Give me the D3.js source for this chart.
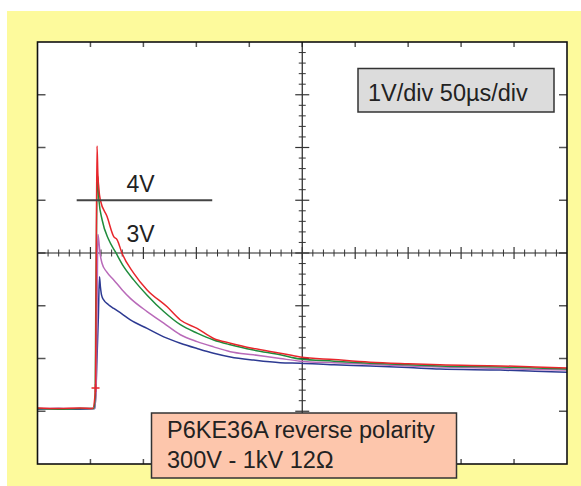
<!DOCTYPE html>
<html>
<head>
<meta charset="utf-8">
<script src="https://cdn.jsdelivr.net/npm/d3@7"></script>
<style>
  html, body { margin: 0; padding: 0; background: #ffffff; }
  svg { display: block; }
  text { font-family: "Liberation Sans", Arial, sans-serif; fill: #222; }
</style>
</head>
<body>
<svg id="chart" width="581" height="486"></svg>
<script>
// Time in microseconds (50 µs/div), voltage in volts (1 V/div).
const timeDomain = [0, 500];
const voltDomain = [-1, 7];

// Four captured waveforms: time (µs) and voltage (V) samples.
const redT = [0, 20, 40, 52, 54.8, 55.5, 56.2, 57, 58, 59.4, 65.7, 72, 75.2, 79.9, 90.8, 103.5, 122.4, 134.9, 150.7, 166.3, 182.1, 204, 229.2, 248, 280, 314, 350, 380, 437, 470, 500];
const redV = [0.06, 0.05, 0.06, 0.05, 0.44, 3.0, 5.03, 4.5, 4.2, 4.0, 3.69, 3.31, 3.25, 2.99, 2.62, 2.30, 1.98, 1.73, 1.57, 1.38, 1.29, 1.19, 1.10, 1.03, 0.98, 0.93, 0.90, 0.88, 0.86, 0.84, 0.82];

const greenT = [0, 20, 40, 53, 54.5, 55, 56, 57, 57.6, 58, 61, 67.3, 73.6, 81.4, 90.8, 103.5, 119.2, 134.9, 150.7, 166.3, 182.1, 204, 229.2, 248, 280, 314, 350, 380, 437, 470, 500];
const greenV = [0.05, 0.04, 0.05, 0.05, 0.3, 1.9, 4.0, 4.45, 4.2, 4.0, 3.63, 3.25, 3.02, 2.74, 2.49, 2.20, 1.89, 1.64, 1.48, 1.35, 1.26, 1.16, 1.07, 0.99, 0.95, 0.91, 0.88, 0.86, 0.84, 0.82, 0.80];

const magentaT = [0, 20, 40, 54, 55.5, 56.5, 57, 57.8, 59, 61, 65, 72, 80, 87.7, 103.5, 119.2, 134.9, 150.7, 166.3, 182.1, 204, 229.2, 248, 280, 314, 350, 380, 437, 470, 500];
const magentaV = [0.05, 0.05, 0.05, 0.05, 0.5, 2.5, 3.35, 3.25, 3.0, 2.80, 2.65, 2.49, 2.30, 2.14, 1.89, 1.67, 1.45, 1.32, 1.22, 1.13, 1.07, 1.00, 0.95, 0.92, 0.89, 0.86, 0.84, 0.81, 0.79, 0.78];

const blueT = [0, 20, 40, 54, 55, 56, 57.5, 58.5, 59.4, 60.5, 62.5, 67, 72, 80, 87.7, 103.5, 119.2, 134.9, 150.7, 166.3, 182.1, 204, 229.2, 248, 280, 314, 350, 380, 437, 470, 500];
const blueV = [0.04, 0.05, 0.04, 0.05, 0.3, 0.9, 1.8, 2.55, 2.36, 2.2, 2.11, 2.02, 1.95, 1.84, 1.73, 1.57, 1.41, 1.29, 1.19, 1.10, 1.03, 0.97, 0.92, 0.91, 0.88, 0.86, 0.83, 0.80, 0.78, 0.76, 0.74];

// Trigger point marked on the red trace.
const triggerT = [54.8];
const triggerV = [0.44];

// Threshold marker: level (V) and its time span (µs).
const levelV = [4];
const levelSpan = [37, 165];
const levelLabels = ["4V", "3V"];
const levelLabelV = [4, 3];

const scaleLabel = "1V/div 50\u00b5s/div";
const titleLines = ["P6KE36A reverse polarity", "300V - 1kV 12\u03a9"];

const traces = [
  { t: blueT, v: blueV, color: "#2d3a92" },
  { t: magentaT, v: magentaV, color: "#b96ab9" },
  { t: greenT, v: greenV, color: "#1f8c3c" },
  { t: redT, v: redV, color: "#e8262c" }
];

const svg = d3.select("#chart");
const W = 581, H = 486;
const plot = { left: 37.5, top: 42, right: 567, bottom: 464 };

// Page and panel backgrounds
svg.append("rect").attr("x", 7).attr("y", 11).attr("width", W - 7).attr("height", H - 11).attr("fill", "#fdfa9c");
svg.append("rect").attr("x", plot.left).attr("y", plot.top)
  .attr("width", plot.right - plot.left).attr("height", plot.bottom - plot.top)
  .attr("fill", "#ffffff");

const x = d3.scaleLinear().domain(timeDomain).range([plot.left, plot.right]);
const y = d3.scaleLinear().domain(voltDomain).range([plot.bottom, plot.top]);

const majorT = d3.range(50, 500, 50);
const minorT = d3.range(10, 500, 10).filter(d => d % 50 !== 0);
const majorV = d3.range(0, 7, 1);
const minorV = d3.range(-0.8, 7, 0.2).map(d => +d.toFixed(1)).filter(d => Math.abs(d - Math.round(d)) > 1e-6);

const centerT = 250, centerV = 3;
const g = svg.append("g");

// Border ticks pointing inward
const tickColor = "#555";
g.selectAll(".tt").data(majorT).join("line")
  .attr("x1", d => x(d)).attr("x2", d => x(d))
  .attr("y1", plot.top).attr("y2", plot.top + 5)
  .attr("stroke", tickColor).attr("stroke-width", 1.5);
g.selectAll(".bt").data(majorT).join("line")
  .attr("x1", d => x(d)).attr("x2", d => x(d))
  .attr("y1", plot.bottom).attr("y2", plot.bottom - 5)
  .attr("stroke", tickColor).attr("stroke-width", 1.5);
g.selectAll(".lt").data(majorV).join("line")
  .attr("x1", plot.left).attr("x2", plot.left + 8)
  .attr("y1", d => y(d)).attr("y2", d => y(d))
  .attr("stroke", tickColor).attr("stroke-width", 1.5);
g.selectAll(".rt").data(majorV).join("line")
  .attr("x1", plot.right).attr("x2", plot.right - 8)
  .attr("y1", d => y(d)).attr("y2", d => y(d))
  .attr("stroke", tickColor).attr("stroke-width", 1.5);

// Center graticule cross with minor and major ticks
const cx = x(centerT), cy = y(centerV);
g.append("line").attr("x1", plot.left).attr("x2", plot.right).attr("y1", cy).attr("y2", cy)
  .attr("stroke", "#222").attr("stroke-width", 1.2);
g.append("line").attr("x1", cx).attr("x2", cx).attr("y1", plot.top).attr("y2", plot.bottom)
  .attr("stroke", "#222").attr("stroke-width", 1.2);
g.selectAll(".cmt").data(minorT).join("line")
  .attr("x1", d => x(d)).attr("x2", d => x(d)).attr("y1", cy - 3.5).attr("y2", cy + 3.5)
  .attr("stroke", "#333").attr("stroke-width", 1);
g.selectAll(".cMt").data(majorT).join("line")
  .attr("x1", d => x(d)).attr("x2", d => x(d)).attr("y1", cy - 6).attr("y2", cy + 6)
  .attr("stroke", "#333").attr("stroke-width", 1.2);
g.selectAll(".cmv").data(minorV).join("line")
  .attr("x1", cx - 3.5).attr("x2", cx + 3.5).attr("y1", d => y(d)).attr("y2", d => y(d))
  .attr("stroke", "#333").attr("stroke-width", 1);
g.selectAll(".cMv").data(majorV).join("line")
  .attr("x1", cx - 7).attr("x2", cx + 7).attr("y1", d => y(d)).attr("y2", d => y(d))
  .attr("stroke", "#333").attr("stroke-width", 1.2);

// Waveforms
const line = d3.line().x(d => x(d[0])).y(d => y(d[1])).curve(d3.curveMonotoneX);
traces.forEach(tr => {
  const pts = tr.t.map((t, i) => [t, tr.v[i]]);
  g.append("path").datum(pts).attr("d", line)
    .attr("fill", "none").attr("stroke", tr.color).attr("stroke-width", 1.5)
    .attr("stroke-linejoin", "round");
});

// Trigger marker
g.selectAll(".trig").data(triggerT).join("path")
  .attr("d", (d, i) => {
    const px = x(d), py = y(triggerV[i]);
    return `M${px - 4},${py}H${px + 4}M${px},${py - 4}V${py + 4}`;
  })
  .attr("stroke", "#e8262c").attr("stroke-width", 1.5).attr("fill", "none");

// Threshold level line and labels
g.selectAll(".lvl").data(levelV).join("line")
  .attr("x1", x(levelSpan[0])).attr("x2", x(levelSpan[1]))
  .attr("y1", d => y(d)).attr("y2", d => y(d))
  .attr("stroke", "#444").attr("stroke-width", 1.8);
g.selectAll(".lvlText").data(levelLabels).join("text")
  .attr("x", x(84))
  .attr("y", (d, i) => y(levelLabelV[i]) - (i === 0 ? 8 : 11))
  .attr("font-size", 23)
  .text(d => d);

// Plot frame
svg.append("rect").attr("x", plot.left).attr("y", plot.top)
  .attr("width", plot.right - plot.left).attr("height", plot.bottom - plot.top)
  .attr("fill", "none").attr("stroke", "#111").attr("stroke-width", 1.6);

// Scale annotation box
svg.append("rect").attr("x", 358).attr("y", 68.5).attr("width", 196).attr("height", 43.5)
  .attr("fill", "#dcdcdc").attr("stroke", "#333").attr("stroke-width", 1.5);
svg.append("text").attr("x", 368).attr("y", 100.5).attr("font-size", 23.5).text(scaleLabel);

// Device / test conditions box
svg.append("rect").attr("x", 151.5).attr("y", 413).attr("width", 305).attr("height", 65)
  .attr("fill", "#fdc6ac").attr("stroke", "#333").attr("stroke-width", 1.5);
svg.selectAll(".title").data(titleLines).join("text")
  .attr("x", 167).attr("y", (d, i) => 438 + i * 29.5)
  .attr("font-size", 23.5).text(d => d);
</script>
</body>
</html>
